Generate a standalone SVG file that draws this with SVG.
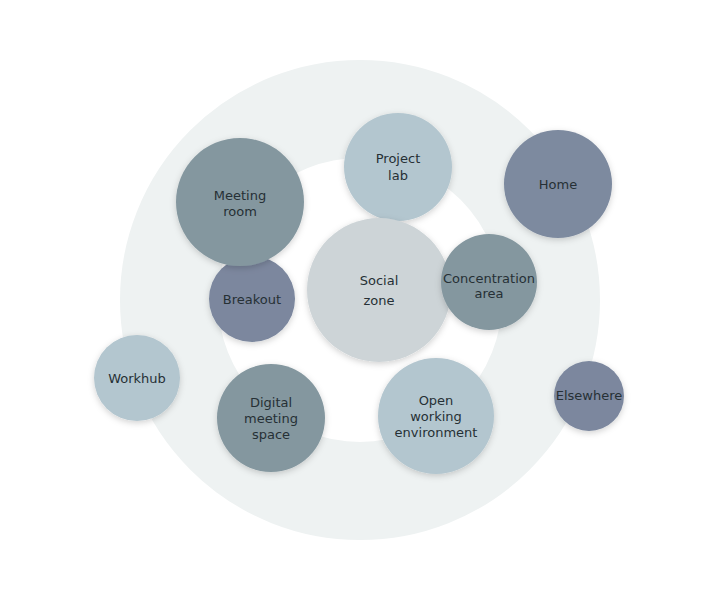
<svg xmlns="http://www.w3.org/2000/svg" width="720" height="600" viewBox="0 0 720 600">
<defs>
<filter id="sh" x="-20%" y="-20%" width="140%" height="140%"><feDropShadow dx="0" dy="2" stdDeviation="3" flood-color="#000" flood-opacity="0.18"/></filter>
</defs>
<style>
text{font-family:"DejaVu Sans","Noto Sans",sans-serif;fill:#263035;text-anchor:middle;font-size:13px}
.n circle{filter:url(#sh)}
.lt{fill:#b3c6cf}.md{fill:#84979f}.dk{fill:#7b879e}
</style>
<rect width="720" height="600" fill="#fff"/>
<g id="ring"><circle cx="360" cy="300" r="191" fill="none" stroke="#eef2f2" stroke-width="98"/></g>
<g id="connectors"/>
<g id="breakout" class="n"><circle class="dk" cx="252" cy="299" r="43"/><text x="252" y="304">Breakout</text></g>
<g id="meeting-room" class="n"><circle class="md" cx="240" cy="202" r="64"/><text x="240" y="200">Meeting</text><text x="240" y="216">room</text></g>
<g id="project-lab" class="n"><circle class="lt" cx="398" cy="167" r="54"/><text x="398" y="163">Project</text><text x="398" y="180">lab</text></g>
<g id="home" class="n"><circle fill="#7d8a9f" cx="558" cy="184" r="54"/><text x="558" y="189">Home</text></g>
<g id="social-zone" class="n"><circle fill="#cdd4d7" cx="379" cy="290" r="72"/><text x="379" y="285" font-size="16">Social</text><text x="379" y="305" font-size="16">zone</text></g>
<g id="concentration-area" class="n"><circle class="md" cx="489" cy="282" r="48"/><text x="489" y="283" font-size="11.5">Concentration</text><text x="489" y="298" font-size="11.5">area</text></g>
<g id="workhub" class="n"><circle class="lt" cx="137" cy="378" r="43"/><text x="137" y="383">Workhub</text></g>
<g id="digital-meeting-space" class="n"><circle class="md" cx="271" cy="418" r="54"/><text x="271" y="407">Digital</text><text x="271" y="423">meeting</text><text x="271" y="439">space</text></g>
<g id="open-working-environment" class="n"><circle class="lt" cx="436" cy="416" r="58"/><text x="436" y="405">Open</text><text x="436" y="421">working</text><text x="436" y="437">environment</text></g>
<g id="elsewhere" class="n"><circle class="dk" cx="589" cy="396" r="35"/><text x="589" y="400" font-size="12">Elsewhere</text></g>
</svg>
